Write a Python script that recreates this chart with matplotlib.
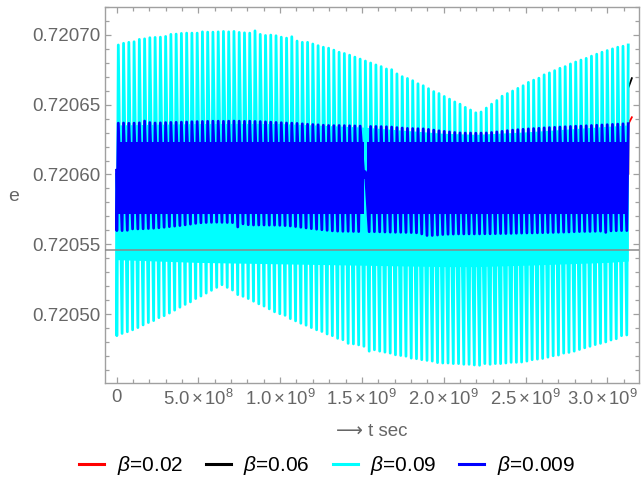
import numpy as np
import matplotlib
matplotlib.use("Agg")
import matplotlib.pyplot as plt
import matplotlib.transforms as mtransforms

plt.rcParams['font.family'] = ['Liberation Sans', 'DejaVu Sans']
plt.rcParams['mathtext.fontset'] = 'custom'
plt.rcParams['mathtext.rm'] = 'Liberation Sans'
plt.rcParams['mathtext.it'] = 'Liberation Sans:italic'
plt.rcParams['mathtext.default'] = 'regular'

# ---------------- data ----------------
E_BASE = 0.7206          # all series below are (e - E_BASE) * 1e6
T_FIRST, T_LAST = 1.1e7, 3.128e9   # time of first / last oscillation peak (s)
N_CYCLES = 98

cyan_hi = [92.8, 94.0, 94.7, 95.1, 96.8, 97.2, 98.0, 98.2, 98.4, 98.9, 100.4, 100.6, 101.1, 101.3, 101.3, 101.3,
           102.2, 102.0, 102.0, 102.2, 102.5, 102.2, 102.5, 101.8, 101.5, 101.3, 102.9, 100.4, 99.6, 99.9, 99.4, 98.4,
           97.7, 98.7, 95.6, 94.7, 94.7, 93.5, 92.3, 91.2, 90.5, 89.1, 87.6, 86.7, 85.5, 84.1, 82.7, 81.3,
           79.9, 78.5, 77.3, 75.6, 75.1, 72.1, 70.1, 68.8, 67.2, 65.0, 63.6, 61.5, 59.4, 58.0, 55.9, 54.0, 52.0,
           50.4, 48.1, 46.2, 44.2, 44.8, 47.6, 50.4, 53.0, 56.1, 58.0, 59.8, 61.7, 63.6, 66.0, 67.6, 69.0,
           71.4, 72.8, 74.4, 76.1, 77.3, 79.2, 80.6, 82.0, 83.2, 84.8, 86.2, 87.6, 88.8, 90.0, 91.2, 91.9, 92.8]
cyan_lo = [-115.5, -113.9, -112.7, -111.3, -109.7, -107.8, -106.1, -104.7, -102.6, -101.2, -99.3, -97.2, -95.1,
           -93.1, -91.3, -88.9, -87.1, -85.0, -83.0, -80.9, -79.0, -80.9, -82.8, -86.1, -87.3, -88.9, -90.8,
           -92.7, -94.3, -96.3, -98.4, -99.8,
           -100.9, -103.3, -104.9, -106.6, -108.0, -109.7, -111.3, -112.5, -114.3, -115.5, -117.4, -118.4,
           -121.0, -121.4, -122.1, -123.1, -126.6, -125.6, -126.6, -127.3, -128.0, -129.2, -129.7, -130.2,
           -131.6, -132.0, -132.7, -133.2, -133.7, -134.8, -135.1, -135.1, -135.5,
           -135.5, -136.0, -136.0, -136.5, -136.7, -135.5, -136.0, -135.5, -135.5, -135.1, -134.6, -134.6,
           -134.4, -133.7, -132.7, -132.3, -131.8, -130.9, -129.9, -129.4, -128.0, -127.5, -126.6, -125.4,
           -124.2, -123.1, -121.9, -121.0, -120.0, -118.6, -117.7, -115.5, -115.0]
blue_hi = [36.8, 36.9, 36.7, 36.8, 37.0, 38.3, 37.2, 36.9, 37.0, 37.2, 37.3, 37.4, 37.5, 37.6, 37.8, 37.9,
           38.0, 38.1, 38.2, 38.2, 38.1, 38.2, 38.3, 38.2, 38.1, 38.2, 38.0, 37.9, 37.7, 37.5, 37.3,
           37.1, 36.9, 36.8, 36.6, 36.3, 36.0, 35.8, 35.6, 35.3, 35.1, 35.0, 35.1, 35.0, 34.9, 34.8,
           34.7, 2.0,
           34.4, 34.4, 34.3, 34.2, 34.0, 33.6, 33.3, 33.0, 32.9, 32.8,
           32.7, 32.3, 31.8, 31.3, 30.9, 30.5, 30.1, 29.8, 29.7, 29.7,
           29.6, 29.7, 29.8, 30.1, 30.5, 30.9, 31.4, 31.8, 32.1, 32.4,
           32.7, 32.9, 33.1, 33.4, 33.6, 33.8, 34.0, 34.2, 34.4, 34.6,
           34.7, 34.9, 35.1, 35.3, 35.5, 35.7, 35.9, 36.1, 36.3, 36.4]
blue_lo = [-40.2, -40.2, -40.0,
           -39.0, -39.0, -38.9, -38.7, -38.5, -38.2, -37.8,
           -37.4, -37.0, -36.6, -36.1, -35.6, -35.0,
           -34.6, -34.4, -34.3, -34.2, -34.3, -34.4, -34.5, -37.6,
           -35.4, -36.0, -36.2, -36.2, -36.2, -36.3, -36.3, -36.4, -36.6, -36.9, -37.3,
           -37.8, -38.3, -38.8, -39.2, -39.6, -40.0,
           -40.4, -40.6, -40.7, -40.7, -40.8, -40.9,
           -2.0,
           -41.0, -41.0, -41.1, -41.2, -41.3, -41.4, -41.4, -41.5, -41.6, -41.8,
           -42.6, -43.7, -43.7, -43.4, -43.0,
           -42.8, -42.7, -42.6, -42.6, -42.6, -42.6, -42.6, -42.5, -42.5, -42.4, -42.3, -42.3, -42.2, -42.1, -42.0,
           -41.9, -41.9, -41.8, -41.7, -41.6, -41.5, -41.4, -41.3, -41.2, -41.0,
           -40.9, -40.8, -40.8, -40.7, -40.6, -41.5, -40.4, -40.3, -40.2, -40.2]

# dense (solid looking) core of each oscillating band
cyan_core_t = [0.0, 0.5e9, 1.0e9, 1.5e9, 2.0e9, 2.2e9, 2.5e9, 3.0e9, 3.128e9]
cyan_core_top = [35.5, 36.5, 36.5, 34.0, 29.5, 28.8, 30.5, 34.5, 35.5]
cyan_core_bot = [-61.0, -63.0, -64.0, -65.0, -66.0, -66.0, -65.0, -63.0, -62.0]
blue_core_t1 = [0.0, 1.513e9]
blue_core_t2 = [1.529e9, 3.128e9]
blue_core_top = [23.0, 23.0]
blue_core_bot = [-28.5, -28.5]

# series hidden underneath (only their tails show at the right edge)
red_t = [0.0, 0.8e9, 1.6e9, 2.4e9, 3.128e9, 3.128e9, 3.150e9]
red_v = [0.0, 2.0, -2.0, 1.0, 0.0, 36.0, 41.0]
black_t = [0.0, 0.8e9, 1.6e9, 2.4e9, 3.128e9, 3.128e9, 3.150e9]
black_v = [0.0, -3.0, 3.0, -2.0, 0.0, 62.0, 69.0]
start_cyan, start_blue = 0.0, 3.0

axis_level = -54.0   # horizontal axis line position
labels = [r'$\mathit{\beta}$=0.02', r'$\mathit{\beta}$=0.06', r'$\mathit{\beta}$=0.09', r'$\mathit{\beta}$=0.009']
colors = ['#ff0000', '#000000', '#00ffff', '#0000ff']
xticks = [0, 5e8, 1e9, 1.5e9, 2e9, 2.5e9, 3e9]
xticklabels = ['0', r'$5.0\,{\times}\,10^{8}$', r'$1.0\,{\times}\,10^{9}$', r'$1.5\,{\times}\,10^{9}$',
               r'$2.0\,{\times}\,10^{9}$', r'$2.5\,{\times}\,10^{9}$', r'$3.0\,{\times}\,10^{9}$']
yticks = [0.72050, 0.72055, 0.72060, 0.72065, 0.72070]

# ---------------- build paths ----------------
def e(v):
    return E_BASE + np.asarray(v, dtype=float) * 1e-6

t_peak = np.linspace(T_FIRST, T_LAST, N_CYCLES)
DELTA = 9e6

def zigzag(hi, lo, start):
    n = min(len(hi), len(lo), len(t_peak))
    tt = [0.0]
    vv = [start]
    for k in range(n):
        tt += [t_peak[k] - DELTA, t_peak[k]]
        vv += [lo[k], hi[k]]
    return np.array(tt), e(vv)

# ---------------- figure ----------------
W, H = 641, 486
fig = plt.figure(figsize=(W / 100, H / 100), dpi=100)
ax = fig.add_axes([105 / W, 1 - 383 / H, (639 - 105) / W, (383 - 7) / H])

LW = 2.0
ax.plot(red_t, e(red_v), color=colors[0], lw=1.3, zorder=2)
ax.plot(black_t, e(black_v), color=colors[1], lw=1.3, zorder=2.1)

tc, vc = zigzag(cyan_hi, cyan_lo, start_cyan)
ax.fill_between(cyan_core_t, e(cyan_core_bot), e(cyan_core_top), color=colors[2], lw=0, zorder=2.9)
ax.plot(tc, vc, color=colors[2], lw=LW, zorder=3)

tb, vb = zigzag(blue_hi, blue_lo, start_blue)
ax.fill_between(blue_core_t1, e(blue_core_bot), e(blue_core_top), color=colors[3], lw=0, zorder=3.9)
ax.fill_between(blue_core_t2, e(blue_core_bot), e(blue_core_top), color=colors[3], lw=0, zorder=3.9)
ax.plot(tb, vb, color=colors[3], lw=LW, zorder=4)

ax.axhline(e(axis_level), color='#8a8a8a', lw=1.1, zorder=5)

ax.set_xlim(-7.03e7, 3.1937e9)
ax.set_ylim(e(-149.4), e(116.1))

ax.set_xticks(xticks)
ax.set_xticklabels(xticklabels)
ax.set_xticks(np.arange(-0.0e9, 3.2e9, 1e8), minor=True)
ax.set_yticks(yticks)
ax.set_yticklabels(['%.5f' % y for y in yticks])
ax.set_yticks(np.arange(0.72046, 0.72072, 0.00001), minor=True)

frame_c = '#a0a0a0'
for s in ax.spines.values():
    s.set_color(frame_c)
    s.set_linewidth(1.0)
ax.tick_params(which='both', direction='in', top=True, right=True, color=frame_c,
               labelcolor='#666666', labelsize=13.5, width=0.9)
ax.tick_params(which='major', length=4.5, pad=3.5)
ax.tick_params(which='minor', length=2.8)
ax.tick_params(axis='x', which='major', pad=4, labelsize=13.3)

# last x label nudged inward so it stays inside the picture (as in the reference)
last = ax.get_xticklabels()[-1]
last.set_transform(last.get_transform() + mtransforms.ScaledTranslation(-5 / 100, 0, fig.dpi_scale_trans))

ax.set_xlabel('\u27f6 t sec', color='#666666', fontsize=13.5, labelpad=10)
ax.set_ylabel('e', color='#666666', fontsize=14, rotation=0, ha='center', va='center')
ax.yaxis.set_label_coords(-91 / (639 - 105), (383 - 196) / (383 - 7))

handles = [plt.Line2D([], [], color=c, lw=2.2) for c in colors]
fig.legend(handles, labels, loc='lower center', ncol=4, frameon=False, fontsize=15,
           bbox_to_anchor=(0.51, -0.02), handlelength=1.2, handletextpad=0.6, columnspacing=1.1)

fig.savefig('out.png', dpi=100)
